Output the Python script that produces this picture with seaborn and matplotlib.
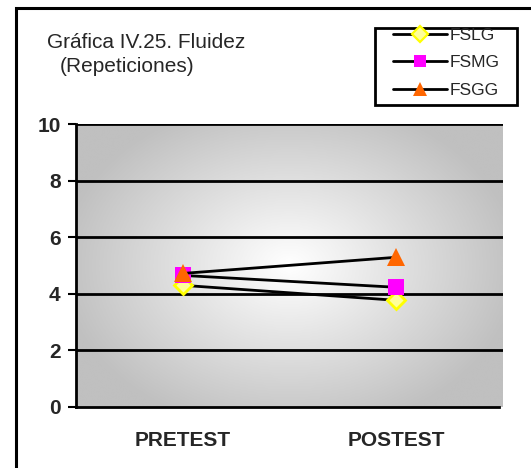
import numpy as np
import pandas as pd
import matplotlib
matplotlib.use("Agg")
import matplotlib.pyplot as plt
import seaborn as sns
from matplotlib.patches import Rectangle
from matplotlib.lines import Line2D

categories = ["PRETEST", "POSTEST"]
series_names = ["FSLG", "FSMG", "FSGG"]
fslg = [4.30, 3.77]
fsmg = [4.65, 4.23]
fsgg = [4.72, 5.29]
yticks = [0, 2, 4, 6, 8, 10]

sns.set_theme(style="white")
plt.rcParams["font.family"] = ["Liberation Sans", "DejaVu Sans"]

df = pd.DataFrame({
    "cat": categories * 3,
    "x": [0, 1] * 3,
    "value": fslg + fsmg + fsgg,
    "serie": [s for s in series_names for _ in range(2)],
})

W, H = 531, 468
fig = plt.figure(figsize=(W / 100, H / 100), dpi=100)
fig.patch.set_facecolor("white")

# outer frame
fig.add_artist(Rectangle((16 / W, -0.1), 1.2, 1 - 8 / H + 0.1, transform=fig.transFigure,
                         fill=False, edgecolor="black", linewidth=2.2))

left, right, top, bottom = 76, 503, 124, 407
ax = fig.add_axes([left / W, 1 - bottom / H, (right - left) / W, (bottom - top) / H])
ax.set_xlim(-0.5, 1.5)
ax.set_ylim(0, 10)

# radial gradient background
nx, ny = 300, 200
xx, yy = np.meshgrid(np.linspace(-1, 1, nx), np.linspace(-1, 1, ny))
r = np.sqrt((xx * 1.0) ** 2 + (yy * 0.9) ** 2) / np.sqrt(2)
val = 1.0 - 0.25 * np.clip(r * 1.3, 0, 1)
ax.imshow(val, cmap="gray", vmin=0, vmax=1, extent=(-0.5, 1.5, 0, 10),
          aspect="auto", zorder=0, interpolation="bicubic")

for yv in yticks[1:]:
    ax.axhline(yv, color="black", linewidth=2.0, zorder=1)

styles = {
    "FSLG": dict(marker="D", mfc="#ffff99", mec="#ffff00", ms=9, mew=2),
    "FSMG": dict(marker="s", mfc="#ff00ff", mec="#ff00ff", ms=11, mew=0),
    "FSGG": dict(marker="^", mfc="#ff6600", mec="#ff6600", ms=12.5, mew=0),
}
for name in series_names:
    st = styles[name]
    sub = df[df["serie"] == name]
    sns.lineplot(data=sub, x="x", y="value", ax=ax, color="black", linewidth=2.0,
                 marker=st["marker"], markerfacecolor=st["mfc"], markeredgecolor=st["mec"],
                 markersize=st["ms"], markeredgewidth=st["mew"], zorder=3, legend=False)

for s in ["top", "right"]:
    ax.spines[s].set_visible(False)
ax.spines["left"].set_color("black")
ax.spines["bottom"].set_color("black")
ax.spines["left"].set_linewidth(2)
ax.spines["bottom"].set_linewidth(2)
ax.spines["bottom"].set_bounds(-0.5, 1.48)

ax.set_yticks(yticks)
ax.set_yticklabels([str(v) for v in yticks], fontsize=15, fontweight="bold")
ax.set_xticks([0, 1])
ax.set_xticklabels(categories, fontsize=15, fontweight="bold")
ax.tick_params(axis="y", direction="out", length=6, width=1.5, color="black", pad=5, left=True)
ax.tick_params(axis="x", length=0, pad=17)
ax.set_xlabel("")
ax.set_ylabel("")

fig.text(47 / W, 1 - 43 / H, "Gráfica IV.25. Fluidez", fontsize=15, va="center", ha="left")
fig.text(60 / W, 1 - 66 / H, "(Repeticiones)", fontsize=15, va="center", ha="left")

# legend box
fig.add_artist(Rectangle((375 / W, 1 - 105 / H), (517 - 375) / W, (105 - 28) / H,
                         transform=fig.transFigure, fill=True, facecolor="white",
                         edgecolor="black", linewidth=2, zorder=4))
handles = [Line2D([0], [0], color="black", linewidth=2, marker=styles[n]["marker"],
                  markerfacecolor=styles[n]["mfc"], markeredgecolor=styles[n]["mec"],
                  markersize=styles[n]["ms"] * 0.85, markeredgewidth=styles[n]["mew"] * 0.8)
           for n in series_names]
leg = fig.legend(handles, series_names, loc="upper left", bbox_to_anchor=(393 / W, 1 - 28 / H),
                 frameon=False, fontsize=12.5, handlelength=3.1, borderpad=0, labelspacing=0.7,
                 handletextpad=0.17, borderaxespad=0)
leg.set_zorder(5)

fig.savefig("out.png", dpi=100)
